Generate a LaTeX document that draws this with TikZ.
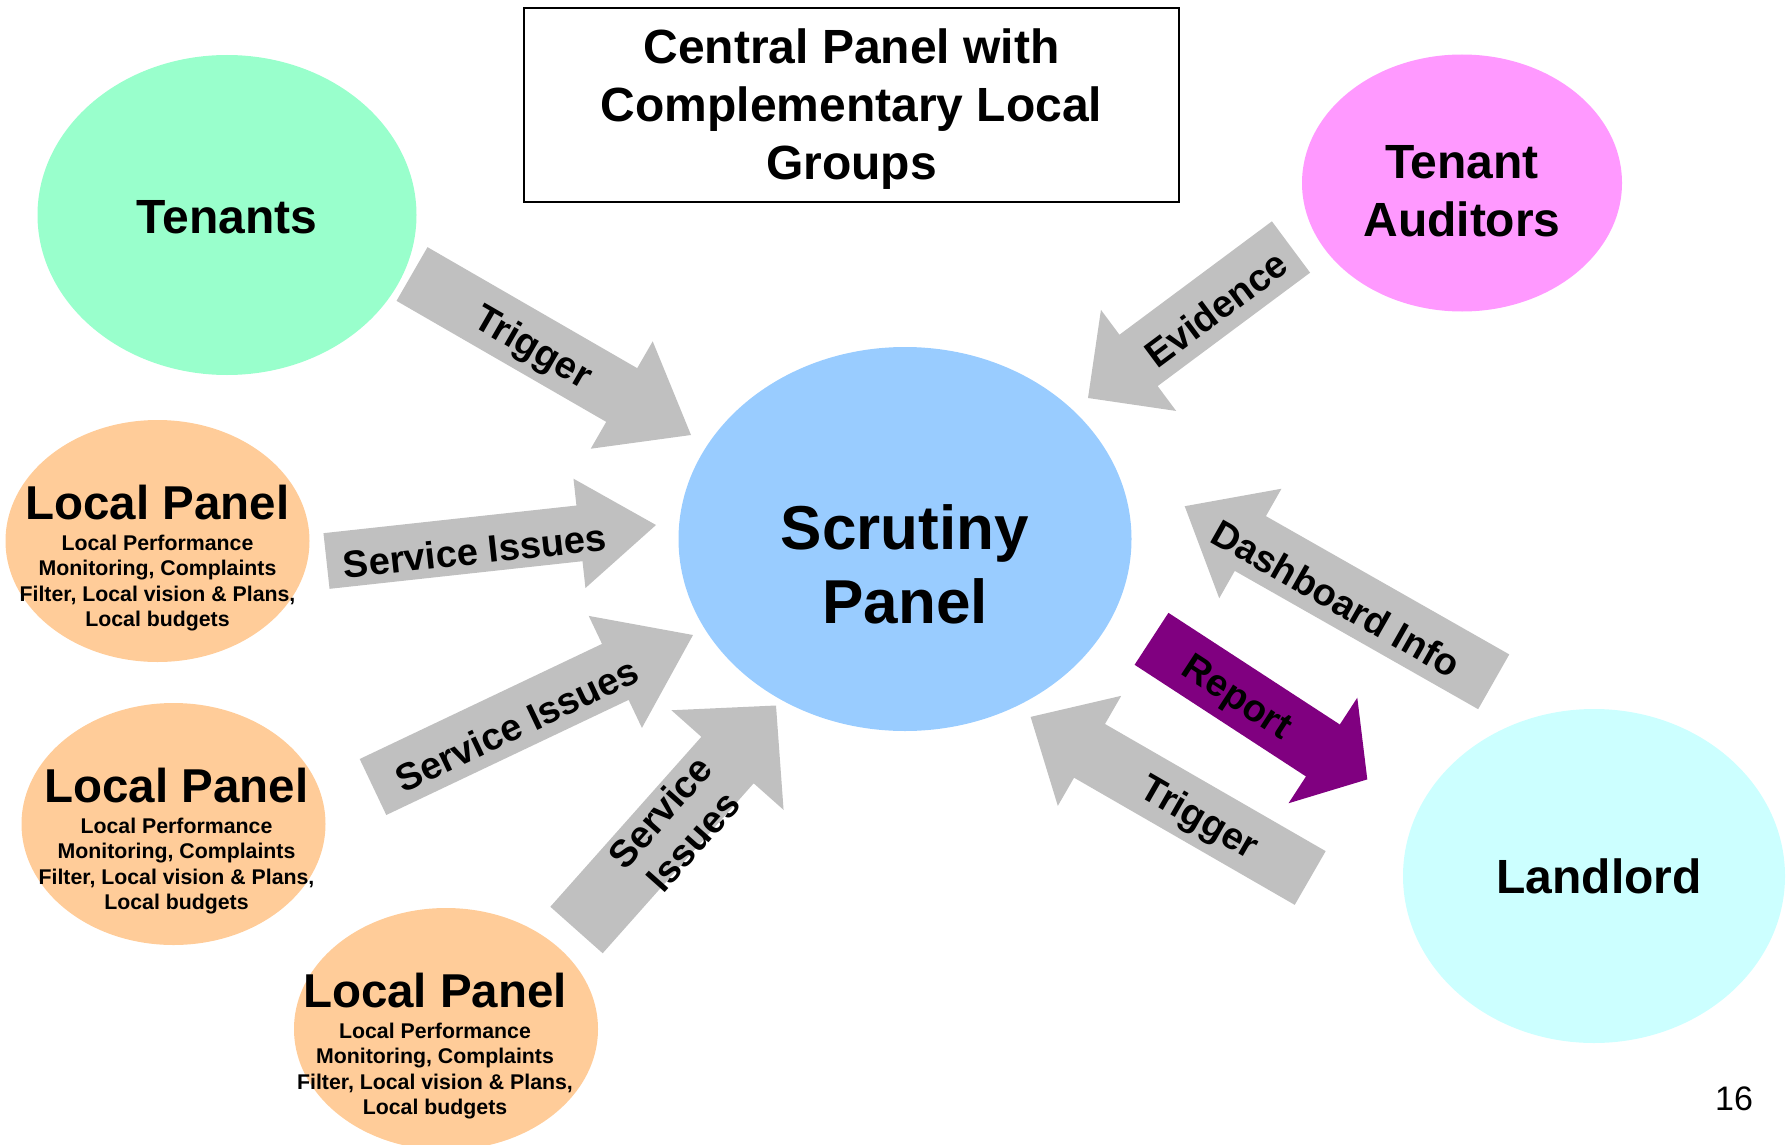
\documentclass[tikz,border=0pt]{standalone}
\usepackage{fontspec}
\setmainfont{Liberation Sans}
\usepackage{tikz}
\usetikzlibrary{shapes.geometric, calc, positioning}
\definecolor{verdeAcqua}{HTML}{99FFCC}
\definecolor{rosaAud}{HTML}{FF99FF}
\definecolor{azzurroPanel}{HTML}{99CCFF}
\definecolor{pesca}{HTML}{FFCC99}
\definecolor{cianoChiaro}{HTML}{CCFFFF}
\definecolor{grigioFreccia}{HTML}{C0C0C0}
\definecolor{viola}{HTML}{800080}
% freccia piena: colore, coda, punta, mezza asta, mezza testa, lunghezza testa, nome, pos, testo
\newcommand{\frecciaBlocco}[9]{
\coordinate (#2h) at ($(#3)!#6!(#2)$);
\fill[#1] ($(#2)!#4!90:(#3)$) -- ($(#2h)!#4!90:(#3)$) -- ($(#2h)!#5!90:(#3)$) -- (#3)
    -- ($(#2h)!#5!-90:(#3)$) -- ($(#2h)!#4!-90:(#3)$) -- ($(#2)!#4!-90:(#3)$) -- cycle;
\path ([yshift=-6pt]#2) -- ([yshift=-6pt]#3) node[etichetta, pos=#8, sloped] (#7) {#9};
}
% pannello locale: nome, centro, spostamento del testo
\newcommand{\pannelloLocale}[3]{
\node[ellisse, fill=pesca, minimum width=304pt, minimum height=242pt] (#1) at (#2) {};
\node[font=\fontsize{47.5}{57}\selectfont\bfseries] (#1t) at ([xshift=#3, yshift=38pt]#1.center) {Local Panel};
\node[align=center, font=\fontsize{21.3}{25.5}\selectfont\bfseries] (#1d) at ([xshift=#3, yshift=-42pt]#1.center) {Local Performance\\Monitoring, Complaints\\Filter, Local vision \& Plans,\\Local budgets};
}

\begin{document}
\begin{tikzpicture}[x=1pt, y=-1pt,
    ellisse/.style={ellipse, inner sep=0pt, draw=none},
    grande/.style={font=\fontsize{48}{58}\selectfont\bfseries, align=center},
    etichetta/.style={font=\fontsize{38}{44}\selectfont\bfseries, align=center, inner sep=0pt}]
    % Cornice
    \useasboundingbox (0,0) rectangle (1790,1145);
    % Titolo
    \node[grande, draw, line width=2pt, minimum width=655pt, minimum height=194pt] (titolo) at (851.5,105) {};
    \node[grande] (titoloT) at ([yshift=-4pt]titolo.center) {Central Panel with\\Complementary Local\\Groups};
    % Ellissi
    \node[ellisse, fill=verdeAcqua, minimum width=379pt, minimum height=320pt] (ten) at (227,215) {};
    \node[grande] (tenT) at ([yshift=-2pt]ten.center) {Tenants};
    \node[ellisse, fill=rosaAud, minimum width=320pt, minimum height=257pt] (aud) at (1462,183) {};
    \node[grande] (audT) at ([yshift=-8pt]aud.center) {Tenant\\Auditors};
    \node[ellisse, fill=azzurroPanel, minimum width=453pt, minimum height=384pt] (scr) at (905,539) {};
    \node[font=\fontsize{62}{74}\selectfont\bfseries, align=center] (scrT) at ([yshift=-25pt]scr.center) {Scrutiny\\Panel};
    \node[ellisse, fill=cianoChiaro, minimum width=382pt, minimum height=334pt] (land) at (1594,876) {};
    \node[grande] (landT) at ([xshift=5pt]land.center) {Landlord};
    \pannelloLocale{lp1}{157.5,541}{0pt}
    \pannelloLocale{lp2}{173.5,824}{3pt}
    \pannelloLocale{lp3}{446,1029}{-11pt}
    % Punti delle frecce
    \coordinate (a1) at (412,274);
    \coordinate (b1) at (691,435);
    \coordinate (a2) at (1291,247);
    \coordinate (b2) at (1088,398);
    \coordinate (a3) at (326.5,561);
    \coordinate (b3) at (656,525);
    \coordinate (a4) at (373,787);
    \coordinate (b4) at (693,635);
    \coordinate (a5) at (576.5,930);
    \coordinate (b5) at (776,705.5);
    \coordinate (a6) at (1493.7,681.8);
    \coordinate (b6) at (1184.7,506.2);
    \coordinate (a7) at (1151.5,638.8);
    \coordinate (b7) at (1367.3,779.4);
    \coordinate (a8) at (1310.2,878);
    \coordinate (b8) at (1030.6,716.9);
    % Frecce
    \frecciaBlocco{grigioFreccia}{a1}{b1}{31pt}{62pt}{80pt}{e1}{0.43}{Trigger}
    \frecciaBlocco{grigioFreccia}{a2}{b2}{32pt}{63pt}{63pt}{e2}{0.37}{Evidence}
    \frecciaBlocco{grigioFreccia}{a3}{b3}{28pt}{55pt}{77pt}{e3}{0.45}{Service Issues}
    \frecciaBlocco{grigioFreccia}{a4}{b4}{31pt}{62pt}{86pt}{e4}{0.45}{Service Issues}
    \frecciaBlocco{grigioFreccia}{a5}{b5}{35pt}{75pt}{73pt}{e5}{0.45, xshift=13pt, yshift=-2pt}{Service\\Issues}
    \frecciaBlocco{grigioFreccia}{a6}{b6}{31.5pt}{63pt}{75.5pt}{e6}{0.51}{Dashboard Info}
    \frecciaBlocco{viola}{a7}{b7}{31pt}{63pt}{53pt}{e7}{0.39}{Report}
    \frecciaBlocco{grigioFreccia}{a8}{b8}{31pt}{63.5pt}{68pt}{e8}{0.40}{Trigger}
    % Numero pagina
    \node[font=\fontsize{34}{40}\selectfont] (num) at (1734,1099) {16};
\end{tikzpicture}
\end{document}
